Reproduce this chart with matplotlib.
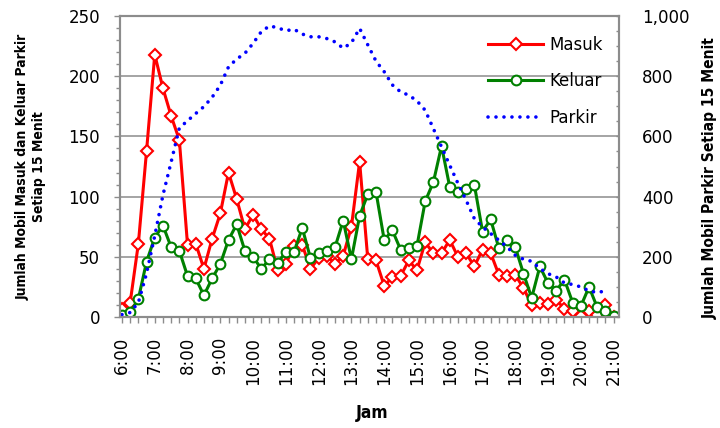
import numpy as np
import matplotlib
matplotlib.use('Agg')
import matplotlib.pyplot as plt
from matplotlib.ticker import MultipleLocator, FuncFormatter

plt.rcParams['font.family'] = ['DejaVu Sans']

# jumlah mobil tiap 15 menit, 6:00 - 21:00
masuk = [7, 12, 61, 138, 218, 190, 167, 147, 60, 61, 40, 65, 86, 120, 98, 73,
         85, 73, 65, 39, 44, 59, 60, 40, 49, 51, 44, 51, 75, 129, 48, 47,
         26, 33, 34, 47, 39, 62, 53, 53, 64, 50, 53, 42, 56, 53, 35, 34,
         35, 24, 10, 12, 11, 14, 7, 5, 1, 5, 2, 10, 0]
keluar = [2, 4, 15, 46, 66, 76, 58, 55, 34, 32, 18, 32, 44, 64, 77, 55,
          50, 40, 48, 45, 54, 54, 74, 49, 53, 55, 58, 80, 48, 84, 102, 104,
          64, 72, 56, 57, 59, 96, 112, 142, 108, 104, 106, 110, 71, 81, 57, 64,
          58, 36, 16, 42, 28, 22, 31, 12, 9, 25, 8, 5, 1]
parkir = [8, 15, 48, 145, 270, 405, 515, 628, 652, 676, 699, 730, 770, 831, 857, 876,
          909, 948, 967, 961, 951, 956, 940, 931, 931, 925, 914, 893, 911, 959, 904, 850,
          815, 771, 748, 737, 718, 687, 626, 565, 504, 444, 388, 327, 299, 277, 255, 233,
          205, 192, 185, 161, 144, 133, 113, 108, 100, 87, 81, 87]
jam = ['6:00', '7:00', '8:00', '9:00', '10:00', '11:00', '12:00', '13:00',
       '14:00', '15:00', '16:00', '17:00', '18:00', '19:00', '20:00', '21:00']

x = np.arange(len(masuk))
label_font = dict(family=['DejaVu Sans'], fontstretch='condensed', fontweight='bold')
abu = '#8c8c8c'

fig = plt.figure(figsize=(7.2, 4.28), dpi=100)
ax = fig.add_axes([0.166, 0.2593, 0.694, 0.7033])
ax2 = ax.twinx()

l1, = ax.plot(x, masuk, color='red', lw=2.2, marker='D', ms=6, mfc='white',
              mec='red', mew=1.5, label='Masuk')
l2, = ax.plot(x, keluar, color='green', lw=2.2, marker='o', ms=7, mfc='white',
              mec='green', mew=1.5, label='Keluar')
l3, = ax2.plot(x[:len(parkir)], parkir, color='blue', lw=2.6, ls=(0, (0.01, 2.2)),
               dash_capstyle='round', label='Parkir')

ax.set_xlim(-0.3, 60.68)
ax.set_ylim(0, 250)
ax2.set_ylim(0, 1000)

ax.set_xticks(x[::4])
ax.set_xticklabels(jam, rotation=90)
ax.xaxis.set_minor_locator(MultipleLocator(1))
ax.yaxis.set_major_locator(MultipleLocator(50))
ax.yaxis.set_minor_locator(MultipleLocator(10))
ax2.yaxis.set_major_locator(MultipleLocator(200))
ax2.yaxis.set_minor_locator(MultipleLocator(50))
ax2.yaxis.set_major_formatter(FuncFormatter(lambda v, p: f'{v:,.0f}'))

ax.grid(axis='y', color=abu, lw=1.1)
ax.set_axisbelow(True)
for a in (ax, ax2):
    for s in a.spines.values():
        s.set_color(abu)
        s.set_linewidth(1.5)

ax.tick_params(axis='x', which='both', length=4.3, width=1, color=abu, pad=10, labelsize=12)
ax.tick_params(axis='y', which='major', length=4.5, width=1, color=abu, pad=9.5, labelsize=12)
ax.tick_params(axis='y', which='minor', length=3, width=1, color=abu)
ax2.tick_params(axis='y', which='both', direction='in', length=2.5, width=1, color=abu,
                pad=16.5, labelsize=12)

ax.set_ylabel('Jumlah Mobil Masuk dan Keluar Parkir\nSetiap 15 Menit', fontsize=10,
              linespacing=1.2, **label_font)
ax.yaxis.set_label_coords(-0.147, 0.5)
ax2.set_ylabel('Jumlah Mobil Parkir Setiap 15 Menit', fontsize=11.2, **label_font)
ax2.yaxis.set_label_coords(1.168, 0.462)
fig.text(372 / 720, 1 - 413 / 428, 'Jam', ha='center', va='center', fontsize=12.5,
         **label_font)

fig.legend([l1, l2, l3], ['Masuk', 'Keluar', 'Parkir'], loc='upper left',
           bbox_to_anchor=(488 / 720, 1 - 36 / 428), frameon=False, fontsize=12,
           handlelength=3.3, handletextpad=0.4, labelspacing=1.1, borderpad=0,
           borderaxespad=0)

fig.savefig('out.png', dpi=100)
